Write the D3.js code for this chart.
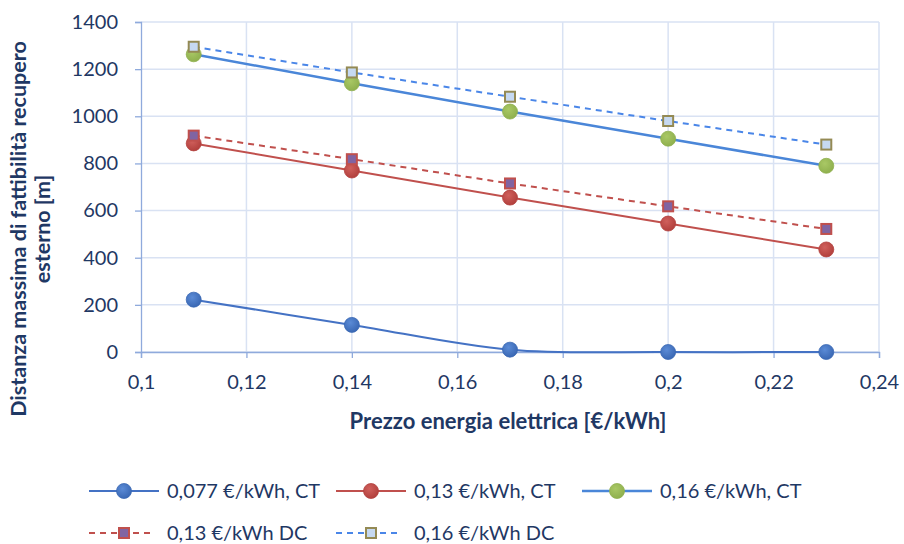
<!DOCTYPE html>
<html><head><meta charset="utf-8">
<script src="https://cdn.jsdelivr.net/npm/d3@7"></script>
<style>body{margin:0;background:#fff}svg{display:block}</style>
</head><body>
<script>
const prices = [0.11, 0.14, 0.17, 0.20, 0.23];
const ct077 = [222, 115, 10, 0, 0];
const ct013 = [885, 770, 655, 545, 435];
const ct016 = [1263, 1140, 1020, 905, 790];
const dc013 = [918, 818, 715, 618, 522];
const dc016 = [1295, 1186, 1083, 980, 880];
const xTicks = [0.1, 0.12, 0.14, 0.16, 0.18, 0.2, 0.22, 0.24];
const yTicks = [0, 200, 400, 600, 800, 1000, 1200, 1400];
const seriesNames = ["0,077 €/kWh, CT", "0,13 €/kWh, CT", "0,16 €/kWh, CT", "0,13 €/kWh DC", "0,16 €/kWh DC"];

const W = 904, H = 544;
const txt = "#1f3864";
const font = "Lato, 'Open Sans', sans-serif";
const svg = d3.select("body").append("svg").attr("width", W).attr("height", H);
const defs = svg.append("defs");
function radial(id, c1, c2){
  const g = defs.append("radialGradient").attr("id", id).attr("cx","40%").attr("cy","35%").attr("r","65%");
  g.append("stop").attr("offset","0%").attr("stop-color",c1);
  g.append("stop").attr("offset","100%").attr("stop-color",c2);
}
radial("gBlue", "#5b8bd6", "#3a68b4");
radial("gRed", "#d0605c", "#b2403d");
radial("gGreen", "#a9c865", "#8fb04e");

const x = d3.scaleLinear().domain([0.1, 0.24]).range([141, 879]);
const y = d3.scaleLinear().domain([0, 1400]).range([352, 22]);

// gridlines
svg.append("g").selectAll("line").data(yTicks).join("line")
  .attr("x1", x(0.1)).attr("x2", x(0.24)).attr("y1", d=>y(d)).attr("y2", d=>y(d))
  .attr("stroke", "#d9e2f3").attr("stroke-width", 1.5);
svg.append("g").selectAll("line").data(xTicks.slice(1)).join("line")
  .attr("x1", d=>x(d)).attr("x2", d=>x(d)).attr("y1", y(0)).attr("y2", y(1400))
  .attr("stroke", "#d9e2f3").attr("stroke-width", 1.5);

// axes
const xAxis = svg.append("g").attr("transform", `translate(0,${y(0)})`)
  .call(d3.axisBottom(x).tickValues(xTicks).tickSize(6).tickPadding(17)
    .tickFormat(d => String(+d.toFixed(2)).replace(".", ",")));
const yAxis = svg.append("g").attr("transform", `translate(${x(0.1)},0)`)
  .call(d3.axisLeft(y).tickValues(yTicks).tickSize(6).tickPadding(17).tickFormat(d3.format("d")));
[xAxis, yAxis].forEach(a => {
  a.select(".domain").attr("stroke", "#8faadc").attr("stroke-width", 1.3);
  a.selectAll(".tick line").attr("stroke", "#8faadc").attr("stroke-width", 1.3);
  a.selectAll("text").attr("fill", txt).style("font-family", font).style("font-size", "20px");
});

// axis titles
svg.append("text").attr("x", 508).attr("y", 429).attr("text-anchor", "middle")
  .attr("fill", txt).style("font-family", font).style("font-size", "22px").style("font-weight", "bold")
  .text("Prezzo energia elettrica [€/kWh]");
const yt = svg.append("text").attr("transform", "translate(26,229) rotate(-90)").attr("text-anchor", "middle")
  .attr("fill", txt).style("font-family", font).style("font-size", "21.5px").style("font-weight", "bold");
yt.append("tspan").attr("x", 0).attr("dy", 0).text("Distanza massima di fattibilità recupero");
yt.append("tspan").attr("x", 0).attr("dy", 24).text("esterno [m]");

const series = [
  {name: seriesNames[0], vals: ct077, stroke: "#4472c4", w: 2, dash: null, marker: "circle", fill: "url(#gBlue)", mstroke: "#3a68b4", curve: d3.curveCatmullRom.alpha(0.5)},
  {name: seriesNames[1], vals: ct013, stroke: "#c0504d", w: 2, dash: null, marker: "circle", fill: "url(#gRed)", mstroke: "#b2403d", curve: d3.curveLinear},
  {name: seriesNames[2], vals: ct016, stroke: "#4a86d8", w: 2.5, dash: null, marker: "circle", fill: "url(#gGreen)", mstroke: "#8fb04e", curve: d3.curveLinear},
  {name: seriesNames[3], vals: dc013, stroke: "#c0504d", w: 2, dash: "6,5", marker: "square", fill: "#8064a2", mstroke: "#c0504d", curve: d3.curveLinear},
  {name: seriesNames[4], vals: dc016, stroke: "#4a86e8", w: 2, dash: "6,5", marker: "square", fill: "#c6d9f1", mstroke: "#948a54", curve: d3.curveLinear}
];

function drawMarker(g, type, cx, cy, s){
  if (type === "circle") {
    g.append("circle").attr("cx", cx).attr("cy", cy).attr("r", 7.5).attr("fill", s.fill).attr("stroke", s.mstroke).attr("stroke-width", 0.8);
  } else {
    g.append("rect").attr("x", cx-5).attr("y", cy-5).attr("width", 10).attr("height", 10)
      .attr("fill", s.fill).attr("stroke", s.mstroke).attr("stroke-width", 2);
  }
}

series.forEach(s => {
  const data = prices.map((p, i) => [p, s.vals[i]]);
  const line = d3.line().x(d=>x(d[0])).y(d=>y(d[1])).curve(s.curve);
  const g = svg.append("g");
  g.append("path").attr("d", line(data)).attr("fill", "none").attr("stroke", s.stroke)
    .attr("stroke-width", s.w).attr("stroke-dasharray", s.dash);
  data.forEach(d => drawMarker(g, s.marker, x(d[0]), y(d[1]), s));
});

// legend
const legPos = [[89, 491], [336, 491], [582, 491], [89, 533], [336, 533]];
series.forEach((s, i) => {
  const [lx, ly] = legPos[i];
  const g = svg.append("g");
  const len = s.dash ? 66 : 70;
  g.append("line").attr("x1", lx).attr("x2", lx+len).attr("y1", ly).attr("y2", ly)
    .attr("stroke", s.stroke).attr("stroke-width", s.w).attr("stroke-dasharray", s.dash);
  drawMarker(g, s.marker, lx+35, ly, s);
  g.append("text").attr("x", lx+78).attr("y", ly).attr("dy", "0.35em")
    .attr("fill", txt).style("font-family", font).style("font-size", "20px").text(s.name);
});
</script>
</body></html>
